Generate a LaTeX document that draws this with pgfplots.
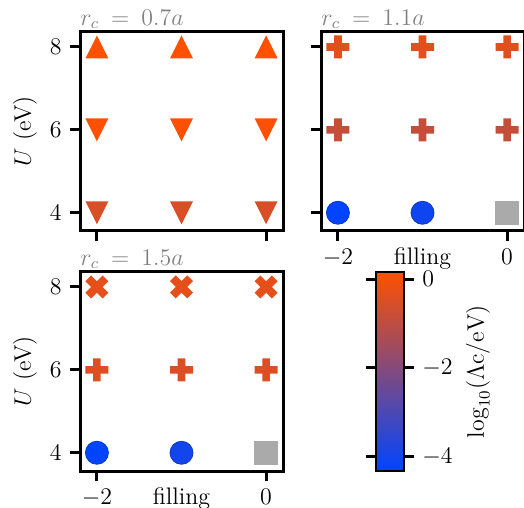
\documentclass[border=0pt]{standalone}
\usepackage{pgfplots}
\pgfplotsset{compat=1.18}
\definecolor{missgray}{RGB}{170,170,170}
\definecolor{titlegray}{RGB}{128,128,128}
\pgfdeclareplotmark{tup}{%
  \pgfpathmoveto{\pgfqpoint{0pt}{\pgfplotmarksize}}%
  \pgfpathlineto{\pgfqpoint{-\pgfplotmarksize}{-\pgfplotmarksize}}%
  \pgfpathlineto{\pgfqpoint{\pgfplotmarksize}{-\pgfplotmarksize}}%
  \pgfpathclose\pgfusepathqfill}
\pgfdeclareplotmark{tdown}{%
  \pgfpathmoveto{\pgfqpoint{0pt}{-\pgfplotmarksize}}%
  \pgfpathlineto{\pgfqpoint{-\pgfplotmarksize}{\pgfplotmarksize}}%
  \pgfpathlineto{\pgfqpoint{\pgfplotmarksize}{\pgfplotmarksize}}%
  \pgfpathclose\pgfusepathqfill}
\pgfdeclareplotmark{Pfill}{%
  \pgfpathmoveto{\pgfqpoint{-0.3333\pgfplotmarksize}{-\pgfplotmarksize}}%
  \pgfpathlineto{\pgfqpoint{0.3333\pgfplotmarksize}{-\pgfplotmarksize}}%
  \pgfpathlineto{\pgfqpoint{0.3333\pgfplotmarksize}{-0.3333\pgfplotmarksize}}%
  \pgfpathlineto{\pgfqpoint{\pgfplotmarksize}{-0.3333\pgfplotmarksize}}%
  \pgfpathlineto{\pgfqpoint{\pgfplotmarksize}{0.3333\pgfplotmarksize}}%
  \pgfpathlineto{\pgfqpoint{0.3333\pgfplotmarksize}{0.3333\pgfplotmarksize}}%
  \pgfpathlineto{\pgfqpoint{0.3333\pgfplotmarksize}{\pgfplotmarksize}}%
  \pgfpathlineto{\pgfqpoint{-0.3333\pgfplotmarksize}{\pgfplotmarksize}}%
  \pgfpathlineto{\pgfqpoint{-0.3333\pgfplotmarksize}{0.3333\pgfplotmarksize}}%
  \pgfpathlineto{\pgfqpoint{-\pgfplotmarksize}{0.3333\pgfplotmarksize}}%
  \pgfpathlineto{\pgfqpoint{-\pgfplotmarksize}{-0.3333\pgfplotmarksize}}%
  \pgfpathlineto{\pgfqpoint{-0.3333\pgfplotmarksize}{-0.3333\pgfplotmarksize}}%
  \pgfpathclose\pgfusepathqfill}
\pgfdeclareplotmark{Xfill}{%
  \pgfpathmoveto{\pgfqpoint{-0.5\pgfplotmarksize}{-\pgfplotmarksize}}%
  \pgfpathlineto{\pgfqpoint{0pt}{-0.5\pgfplotmarksize}}%
  \pgfpathlineto{\pgfqpoint{0.5\pgfplotmarksize}{-\pgfplotmarksize}}%
  \pgfpathlineto{\pgfqpoint{\pgfplotmarksize}{-0.5\pgfplotmarksize}}%
  \pgfpathlineto{\pgfqpoint{0.5\pgfplotmarksize}{0pt}}%
  \pgfpathlineto{\pgfqpoint{\pgfplotmarksize}{0.5\pgfplotmarksize}}%
  \pgfpathlineto{\pgfqpoint{0.5\pgfplotmarksize}{\pgfplotmarksize}}%
  \pgfpathlineto{\pgfqpoint{0pt}{0.5\pgfplotmarksize}}%
  \pgfpathlineto{\pgfqpoint{-0.5\pgfplotmarksize}{\pgfplotmarksize}}%
  \pgfpathlineto{\pgfqpoint{-\pgfplotmarksize}{0.5\pgfplotmarksize}}%
  \pgfpathlineto{\pgfqpoint{-0.5\pgfplotmarksize}{0pt}}%
  \pgfpathlineto{\pgfqpoint{-\pgfplotmarksize}{-0.5\pgfplotmarksize}}%
  \pgfpathclose\pgfusepathqfill}
\pgfplotsset{
  colormap={lc}{rgb255(0cm)=(0,68,255); rgb255(1cm)=(255,80,0)},
  myax/.style={
    width=101.5bp, height=99.5bp, scale only axis,
    xmin=-2.2, xmax=0.2, ymin=3.56, ymax=8.36,
    xtick={-2,0}, ytick={4,6,8},
    tick align=outside, tick pos=left,
    major tick length=5bp,
    axis line style={line width=1.5bp},
    every tick/.style={line width=1.5bp, black},
    point meta min=-4.32, point meta max=0.16,
    colormap name=lc,
    mark size=5.75bp, clip=false,
    every axis title shift=0pt,
    title style={at={(axis description cs:0,1)}, anchor=base west, inner sep=0pt, yshift=3.3bp, text=titlegray},
    xlabel style={at={(axis description cs:0.5,0)}, anchor=north, inner sep=0pt, yshift=-8bp},
    ylabel style={at={(axis description cs:-0.271,0.5)}, anchor=center, inner sep=0pt},
  },
  sc/.style={scatter, only marks, scatter src=explicit, mark=#1},
}
\begin{document}
\fontsize{12}{14}\selectfont
\begin{tikzpicture}[x=1bp,y=1bp]
\useasboundingbox (0,0) rectangle (262,254);
% top left
\begin{axis}[myax, at={(40bp,138.5bp)}, anchor=south west,
  title={$r_c \:=\: 0.7a$}, ylabel={$U$ (eV)}, xticklabels={}]
\addplot[sc=tup] table[meta=c] {
x y c
-2 8 0.12
-1 8 0.12
0 8 0.12
};
\addplot[sc=tdown] table[meta=c] {
x y c
-2 6 0.1
-1 6 0.1
0 6 0.1
};
\addplot[sc=tdown] table[meta=c] {
x y c
-2 4 -0.55
-1 4 -0.55
0 4 -0.55
};
\end{axis}
% top right
\begin{axis}[myax, at={(160.5bp,138.5bp)}, anchor=south west,
  title={$r_c \:=\: 1.1a$}, xlabel={filling}, yticklabels={}]
\addplot[sc=Pfill] table[meta=c] {
x y c
-2 8 -0.37
-1 8 -0.37
0 8 -0.37
};
\addplot[sc=Pfill] table[meta=c] {
x y c
-2 6 -0.89
-1 6 -0.89
0 6 -0.89
};
\addplot[sc=*] table[meta=c] {
x y c
-2 4 -4.32
-1 4 -4.05
};
\addplot[only marks, mark=square*, color=missgray] coordinates {(0,4)};
\end{axis}
% bottom left
\begin{axis}[myax, at={(40bp,18.5bp)}, anchor=south west,
  title={$r_c \:=\: 1.5a$}, ylabel={$U$ (eV)}, xlabel={filling},
  colorbar,
  colorbar style={at={(parent axis.south east)}, anchor=south west, xshift=38bp,
    width=14bp, height=99.5bp, ytick={-4,-2,0},
    yticklabel pos=right,
    ylabel={$\log_{10}(\Lambda\mathrm{c}/\mathrm{eV})$},
    ylabel style={at={(axis description cs:3.64,0.5)}, anchor=center, rotate=0},
    axis line style={line width=0.8bp},
    major tick length=5bp, tick align=outside,
    every tick/.style={line width=1.5bp, black}}]
\addplot[sc=Xfill] table[meta=c] {
x y c
-2 8 -0.3
-1 8 -0.3
0 8 -0.3
};
\addplot[sc=Pfill] table[meta=c] {
x y c
-2 6 -0.46
-1 6 -0.46
0 6 -0.46
};
\addplot[sc=*] table[meta=c] {
x y c
-2 4 -4.32
-1 4 -4.0
};
\addplot[only marks, mark=square*, color=missgray] coordinates {(0,4)};
\end{axis}
\end{tikzpicture}
\end{document}
